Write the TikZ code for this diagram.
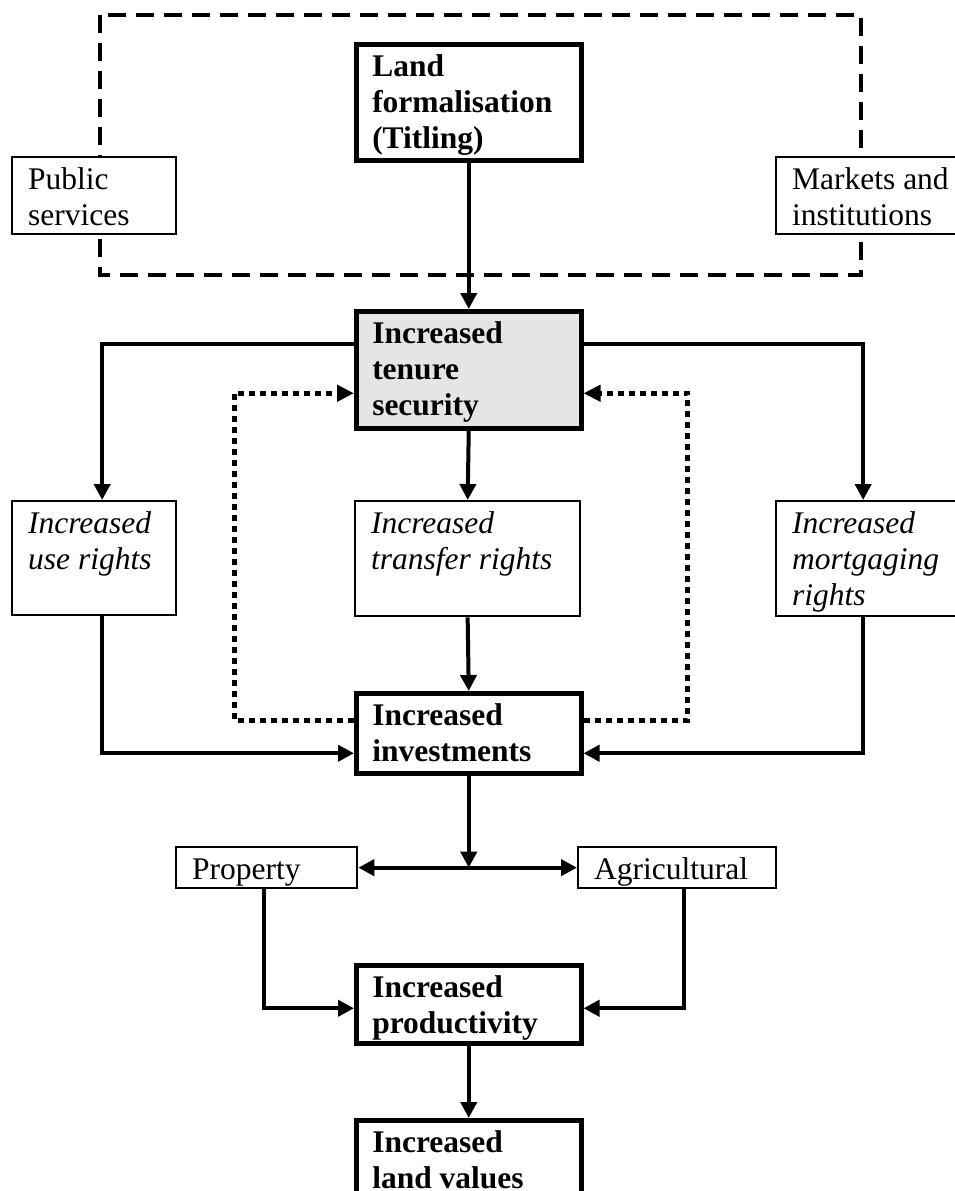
\documentclass[tikz,border=0pt]{standalone}
\usepackage{fontspec}
\setmainfont{Liberation Serif}
\usetikzlibrary{arrows.meta,calc}
\newcommand{\btxt}[3]{\parbox[t][#2][t]{#1}{\raggedright\leftskip=16pt\relax\rule{0pt}{32pt}#3}}
\tikzset{
  box/.style={draw, fill=white, line width=2.3pt, inner sep=0pt, anchor=north west,
    font=\fontsize{31.5}{36}\selectfont},
  bbox/.style={box, line width=4.5pt},
  arr/.style={line width=4pt, -{Triangle[length=16pt,width=16pt]}},
  arrtwo/.style={line width=4pt, {Triangle[length=16pt,width=16pt]}-{Triangle[length=16pt,width=16pt]}},
  dotarr/.style={line width=5pt, dash pattern=on 6pt off 5pt, -{Triangle[length=17pt,width=16pt]}},
  dashbox/.style={line width=3.5pt, dash pattern=on 18pt off 10pt}
}
\begin{document}
\begin{tikzpicture}[x=1pt,y=-1pt]
\useasboundingbox (0,0) rectangle (955,1191);
% dashed frame
\draw[dashbox] (100,15) rectangle (861,275);
% boxes
\node[bbox] (land) at (354,42) {\btxt{225pt}{116pt}{\bfseries Land\\formalisation\\(Titling)}};
\node[box] (pub) at (11,156) {\btxt{164pt}{77pt}{Public\\services}};
\node[box] (mkt) at (775,156) {\btxt{187pt}{77pt}{Markets and\\institutions}};
\node[bbox, fill=black!10] (ten) at (354,309) {\btxt{225pt}{117pt}{\bfseries Increased\\tenure\\security}};
\node[box] (use) at (11,500) {\btxt{164pt}{114pt}{\itshape Increased\\use rights}};
\node[box] (tra) at (354,500) {\btxt{225pt}{115pt}{\itshape Increased\\transfer rights}};
\node[box] (mor) at (775,500) {\btxt{187pt}{115pt}{\itshape Increased\\mortgaging\\rights}};
\node[bbox] (inv) at (354,691) {\btxt{225pt}{80pt}{\bfseries Increased\\investments}};
\node[box] (pro) at (175,846) {\btxt{181pt}{41pt}{Property}};
\node[box] (agr) at (577,846) {\btxt{198pt}{41pt}{Agricultural}};
\node[bbox] (prd) at (354,963) {\btxt{225pt}{78pt}{\bfseries Increased\\productivity}};
\node[bbox] (lv) at (354,1118) {\btxt{225pt}{82pt}{\bfseries Increased\\land values}};
% connectors
\draw[arr] (land.south) -- (ten.north);
\draw[arr] ([yshift=25.5pt]ten.west) -| ([xshift=8pt]use.north);
\draw[arr] ([yshift=25.5pt]ten.east) -| ([xshift=-6.5pt]mor.north);
\draw[arr] (ten.south) -- (tra.north);
\draw[arr] (tra.south) -- (inv.north);
\draw[arr] ([xshift=7.5pt]use.south) |- ([yshift=-20pt]inv.west);
\draw[arr] ([xshift=-6.5pt]mor.south) |- ([yshift=-20pt]inv.east);
\draw[dotarr] ([yshift=13pt]inv.west) -- ++(-120,0) |- ([yshift=-23.5pt]ten.west);
\draw[dotarr] ([yshift=13pt]inv.east) -- ++(104,0) |- ([yshift=-23.5pt]ten.east);
\coordinate (j) at (inv.south |- pro.east);
\draw[arr] (inv.south) -- (j);
\draw[arrtwo] (pro.east) -- (agr.west);
\draw[arr] ([xshift=-3pt]pro.south) |- ([yshift=-4pt]prd.west);
\draw[arr] ([xshift=7pt]agr.south) |- ([yshift=-4pt]prd.east);
\draw[arr] (prd.south) -- (lv.north);
\end{tikzpicture}
\end{document}
